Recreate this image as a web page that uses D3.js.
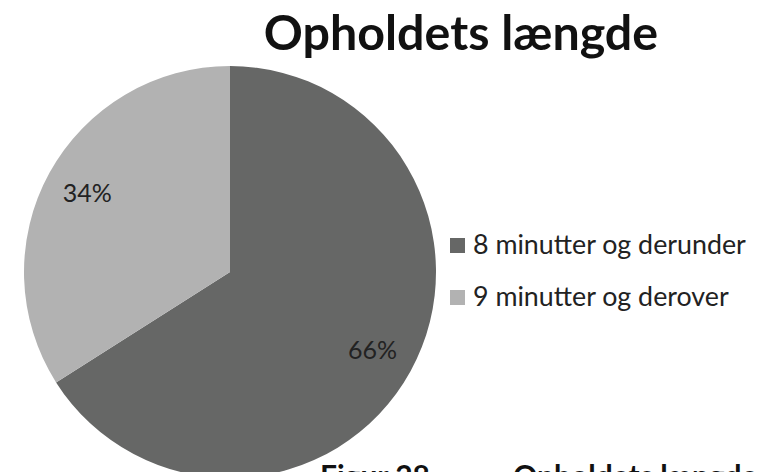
<!DOCTYPE html>
<html>
<head>
<meta charset="utf-8">
<script src="https://cdn.jsdelivr.net/npm/d3@7/dist/d3.min.js"></script>
<style>
  html, body { margin: 0; padding: 0; background: #fff; overflow: hidden; }
  svg { display: block; font-family: Lato, "Open Sans", sans-serif; }
</style>
</head>
<body>
<svg id="chart" width="764" height="472"></svg>
<script>
// data
const categories = ["8 minutter og derunder", "9 minutter og derover"];
const values = [66, 34];
const colors = ["#666766", "#b2b2b2"];
const title = "Opholdets længde";
const captionLabel = "Figur 28";
const captionText = "Opholdets længde";

const svg = d3.select("#chart");
const cx = 230, cy = 272, radius = 206;

// titel
svg.append("text")
  .attr("x", 461)
  .attr("y", 50)
  .attr("text-anchor", "middle")
  .style("font-weight", "bold")
  .style("font-size", "48.4px")
  .style("fill", "#111")
  .text(title);

const pie = d3.pie().sort(null).value(d => d);
const arc = d3.arc().innerRadius(0).outerRadius(radius);
const slices = pie(values);

const g = svg.append("g").attr("transform", `translate(${cx},${cy})`);

g.selectAll("path")
  .data(slices)
  .enter()
  .append("path")
  .attr("d", arc)
  .style("fill", (d, i) => colors[i]);

// procent-labels
const labelArc = d3.arc().innerRadius(radius * 0.79).outerRadius(radius * 0.79);
g.selectAll("text.pct")
  .data(slices)
  .enter()
  .append("text")
  .attr("class", "pct")
  .attr("transform", d => {
    const [x, y] = labelArc.centroid(d);
    return `translate(${x},${y})`;
  })
  .attr("text-anchor", "middle")
  .attr("dy", "0.33em")
  .style("font-size", "25px")
  .style("fill", "#222")
  .text(d => d.data + "%");

// legend (lodret centreret om lagkagen)
const legend = svg.append("g").attr("transform", "translate(450,238)");
const item = legend.selectAll("g")
  .data(categories)
  .enter()
  .append("g")
  .attr("transform", (d, i) => `translate(0,${i * 52})`);
item.append("rect")
  .attr("width", 15)
  .attr("height", 15)
  .style("fill", (d, i) => colors[i]);
item.append("text")
  .attr("x", 23)
  .attr("y", 15.5)
  .style("font-size", "26.8px")
  .style("fill", "#222")
  .text(d => d);

// figurtekst (afskåret i bunden)
const cap = svg.append("g").style("font-weight", "bold").style("font-size", "30px").style("fill", "#111");
cap.append("text").attr("x", 320).attr("y", 487).text(captionLabel);
cap.append("text").attr("x", 513).attr("y", 487).text(captionText);
</script>
</body>
</html>
